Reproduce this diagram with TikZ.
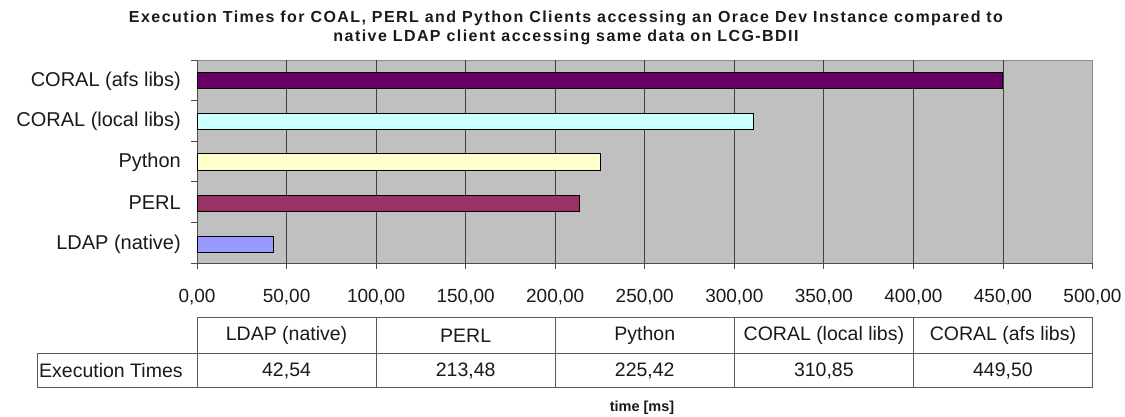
\documentclass[tikz,border=0pt]{standalone}
\usepackage{fontspec}
\setmainfont{Liberation Sans}
\newfontfamily\titlefont[LetterSpace=9]{Liberation Sans}
\definecolor{plotbg}{HTML}{C0C0C0}
\definecolor{cafs}{HTML}{660066}
\definecolor{clocal}{HTML}{CCFFFF}
\definecolor{cpy}{HTML}{FFFFCC}
\definecolor{cperl}{HTML}{993366}
\definecolor{cldap}{HTML}{9999FF}
\definecolor{ink}{HTML}{1A1A1A}
\begin{document}
\begin{tikzpicture}[x=1pt,y=-1pt,
  titletxt/.style={font=\titlefont\bfseries\fontsize{16}{16}\selectfont, text=ink, inner sep=0pt},
  catlab/.style={font=\fontsize{20}{20}\selectfont, text=ink, anchor=east, inner sep=0pt},
  ticklab/.style={font=\fontsize{19}{19}\selectfont, text=ink, inner sep=0pt},
  celltxt/.style={font=\fontsize{19.5}{19.5}\selectfont, text=ink, inner sep=0pt},
  bar/.style={draw=black, line width=0.8pt},
  gridl/.style={draw=black!75, line width=0.9pt},
  axisl/.style={draw=black!70, line width=0.9pt},
  tabl/.style={draw=black!65, line width=1pt}]
\useasboundingbox (0,0) rectangle (1125,416);
\fill[white] (0,0) rectangle (1125,416);
% title
\node[titletxt] (t1) at (566,18) {Execution Times for COAL, PERL and Python Clients accessing an Orace Dev Instance compared to};
\node[titletxt] (t2) at (566,37) {native LDAP client accessing same data on LCG-BDII};
% plot area
\fill[plotbg] (197,60) rectangle (1092.5,263);
\draw[draw=black!45, line width=0.8pt] (197,60) -- (1092.5,60) -- (1092.5,263);
\foreach \k in {1,...,9} {
  \draw[gridl] ({197+\k*89.55},60) -- ({197+\k*89.55},263);
}
% axes
\draw[axisl] (197,60) -- (197,263) -- (1092.5,263);
\foreach \k in {0,...,10} {
  \draw[axisl] ({197+\k*89.55},263) -- ({197+\k*89.55},269);
}
\foreach \j in {0,...,5} {
  \draw[axisl] (191,{60+\j*40.6}) -- (197,{60+\j*40.6});
}
% tick labels
\foreach \k/\v in {0/{0,00},1/{50,00},2/{100,00},3/{150,00},4/{200,00},5/{250,00},6/{300,00},7/{350,00},8/{400,00},9/{450,00},10/{500,00}} {
  \node[ticklab] (tk\k) at ({197+\k*89.55},297) {\v};
}
% bars (value * 1.791)
\path[bar, fill=cafs]   (197,72)  rectangle ({197+449.50*1.791},88);
\path[bar, fill=clocal] (197,113) rectangle ({197+310.85*1.791},129);
\path[bar, fill=cpy]    (197,153) rectangle ({197+225.42*1.791},170);
\path[bar, fill=cperl]  (197,195) rectangle ({197+213.48*1.791},211);
\path[bar, fill=cldap]  (197,236) rectangle ({197+42.54*1.791},252);
% category labels
\node[catlab] (c1) at (181,81)  {CORAL (afs libs)};
\node[catlab] (c2) at (181,121) {CORAL (local libs)};
\node[catlab] (c3) at (181,162) {Python};
\node[catlab] (c4) at (181,203) {PERL};
\node[catlab] (c5) at (181,244) {LDAP (native)};
% table
\draw[tabl] (197,317) rectangle (1092.5,387);
\draw[tabl] (37,353) rectangle (197,387);
\draw[tabl] (197,353) -- (1092.5,353);
\foreach \k in {1,...,4} {
  \draw[tabl] ({197+\k*179.1},317) -- ({197+\k*179.1},387);
}
\foreach \k/\h/\d in {0/{LDAP (native)}/{42,54},1/{PERL}/{213,48},2/{Python}/{225,42},3/{CORAL (local libs)}/{310,85},4/{CORAL (afs libs)}/{449,50}} {
  \node[celltxt] (h\k) at ({197+\k*179.1+89.55},335.5) {\h};
  \node[celltxt] (d\k) at ({197+\k*179.1+89.55},370.5) {\d};
}
\node[celltxt, anchor=west] (rowlab) at (39,370.5) {Execution Times};
\node[titletxt, font=\bfseries\fontsize{14.5}{15}\selectfont] (xlab) at (642,408) {time [ms]};
\end{tikzpicture}
\end{document}
